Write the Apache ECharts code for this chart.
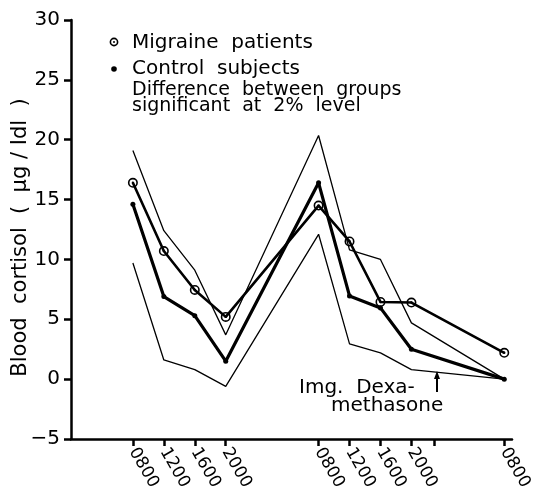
<!DOCTYPE html>
<html>
<head>
<meta charset="utf-8">
<script src="https://cdn.jsdelivr.net/npm/echarts@6/dist/echarts.min.js"></script>
<style>
  html, body { margin: 0; padding: 0; background: #fff; }
  #main { width: 539px; height: 498px; }
</style>
</head>
<body>
<div id="main"></div>
<script>
// clock time in hours from 00:00 of day 1
var hours = [8, 12, 16, 20, 32, 36, 40, 44, 56];
var tickHours = [8, 12, 16, 20, 32, 36, 40, 44, 47, 56];
var hourLabels = ['0800', '1200', '1600', '2000', '0800', '1200', '1600', '2000', '0800'];
var yTicks = [-5, 0, 5, 10, 15, 20, 25, 30];

// blood cortisol, ug/dl
var migraine = [16.4, 10.7, 7.45, 5.2, 14.5, 11.5, 6.45, 6.4, 2.2];
var control = [14.6, 6.9, 5.3, 1.5, 16.4, 6.95, 5.95, 2.5, 0];
var upperLine = [19.1, 12.4, 9.1, 3.7, 20.35, 10.8, 10.0, 4.7, 0];
var lowerLine = [9.7, 1.6, 0.8, -0.6, 12.1, 2.95, 2.2, 0.8, 0];

var font = 'DejaVu Sans';
var ringDot = 'path://M0,-5A5,5 0 1,0 0,5A5,5 0 1,0 0,-5ZM0,-3.4A3.4,3.4 0 1,1 0,3.4A3.4,3.4 0 1,1 0,-3.4ZM0,-1.2A1.2,1.2 0 1,0 0,1.2A1.2,1.2 0 1,0 0,-1.2Z';

function pairs(arr) {
    var out = [];
    for (var i = 0; i < arr.length; i++) {
        out.push([hours[i], arr[i]]);
    }
    return out;
}

var myChart = echarts.init(document.getElementById('main'));

var option = {
    backgroundColor: '#fff',
    animation: false,
    grid: { left: 71, right: 27, top: 20, bottom: 59, containLabel: false, outerBoundsMode: 'none' },
    xAxis: {
        type: 'value',
        min: 0,
        max: 57,
        splitLine: { show: false },
        axisLine: { onZero: false, lineStyle: { color: '#000', width: 2.5 } },
        axisTick: {
            show: true,
            customValues: tickHours,
            length: 7,
            lineStyle: { color: '#000', width: 2.5 }
        },
        axisLabel: {
            customValues: hours,
            rotate: -60,
            margin: 10,
            color: '#000',
            fontFamily: font,
            fontSize: 17,
            formatter: function(v) {
                var i = hours.indexOf(v);
                return i >= 0 ? hourLabels[i] : '';
            }
        }
    },
    yAxis: {
        type: 'value',
        min: -5,
        max: 30,
        interval: 5,
        name: 'Blood  cortisol  (  µg / Idl  )',
        nameLocation: 'middle',
        nameGap: 40,
        nameMoveOverlap: false,
        nameTextStyle: { color: '#000', fontFamily: font, fontSize: 21, padding: [0, 16, 0, 0] },
        splitLine: { show: false },
        axisLine: { show: true, onZero: false, lineStyle: { color: '#000', width: 2.5 } },
        axisTick: { show: true, length: 7, lineStyle: { color: '#000', width: 2.5 } },
        axisLabel: {
            color: '#000',
            fontFamily: font,
            fontSize: 20,
            margin: 11,
            customValues: yTicks,
            formatter: function(v) {
                return String(v).replace('-', '\u2212');
            }
        }
    },
    series: [{
        name: 'upper',
        type: 'line',
        data: pairs(upperLine),
        symbol: 'none',
        lineStyle: { color: '#000', width: 1.3 }
    }, {
        name: 'lower',
        type: 'line',
        data: pairs(lowerLine),
        symbol: 'none',
        lineStyle: { color: '#000', width: 1.3 }
    }, {
        name: 'Control subjects',
        type: 'line',
        data: pairs(control),
        symbol: 'circle',
        symbolSize: 5,
        itemStyle: { color: '#000' },
        lineStyle: { color: '#000', width: 3.2 }
    }, {
        name: 'Migraine patients',
        type: 'line',
        data: pairs(migraine),
        symbol: ringDot,
        symbolSize: 10,
        itemStyle: { color: '#000' },
        lineStyle: { color: '#000', width: 2.6 }
    }],
    graphic: [
        // legend
        { type: 'circle', shape: { cx: 114, cy: 42, r: 3.6 }, style: { fill: 'none', stroke: '#000', lineWidth: 1.6 } },
        { type: 'circle', shape: { cx: 114, cy: 42, r: 1 }, style: { fill: '#000' } },
        { type: 'circle', shape: { cx: 114, cy: 69, r: 2.8 }, style: { fill: '#000' } },
        { type: 'text', left: 132, top: 33, style: { text: 'Migraine  patients', font: '20px "DejaVu Sans"', fill: '#000' } },
        { type: 'text', left: 132, top: 59, style: { text: 'Control  subjects', font: '20px "DejaVu Sans"', fill: '#000' } },
        { type: 'text', left: 132, top: 81, style: { text: 'Difference  between  groups', font: '19px "DejaVu Sans"', fill: '#000' } },
        { type: 'text', left: 132, top: 97, style: { text: 'significant  at  2%  level', font: '19px "DejaVu Sans"', fill: '#000' } },
        // dexamethasone note
        { type: 'text', left: 299, top: 378, style: { text: 'Img.  Dexa-', font: '20px "DejaVu Sans"', fill: '#000' } },
        { type: 'text', left: 331, top: 396, style: { text: 'methasone', font: '20px "DejaVu Sans"', fill: '#000' } },
        { type: 'line', shape: { x1: 437, y1: 375, x2: 437, y2: 392 }, style: { stroke: '#000', lineWidth: 2 } },
        { type: 'polygon', shape: { points: [[437, 371], [434, 379], [440, 379]] }, style: { fill: '#000' } }
    ]
};

myChart.setOption(option);
</script>
</body>
</html>
